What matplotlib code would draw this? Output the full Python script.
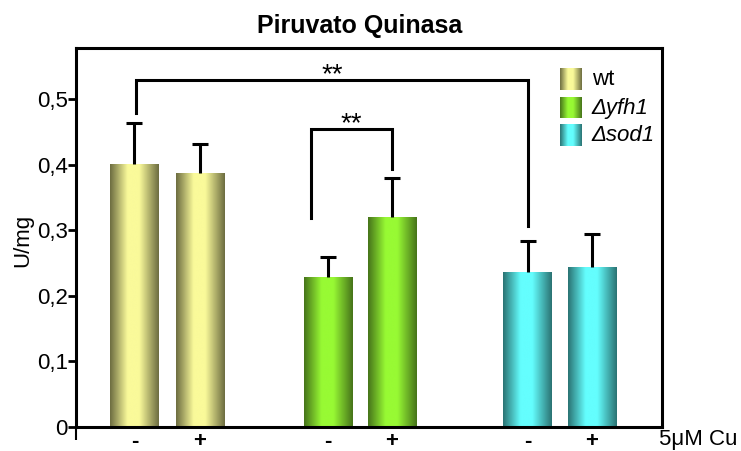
import numpy as np
import matplotlib
matplotlib.use("Agg")
import matplotlib.pyplot as plt
from matplotlib.colors import LinearSegmentedColormap

plt.rcParams['font.family'] = ['Liberation Sans', 'DejaVu Sans']

# Data
strains = ['wt', 'Δyfh1', 'Δsod1']
treatment = ['-', '+', '-', '+', '-', '+']
activity = [0.401, 0.387, 0.228, 0.321, 0.236, 0.244]
error = [0.062, 0.044, 0.031, 0.058, 0.047, 0.051]
yticks = [0, 0.1, 0.2, 0.3, 0.4, 0.5]
yticklabels = ['0', '0,1', '0,2', '0,3', '0,4', '0,5']

# Bar layout (two bars per strain)
positions = [0, 1.0, 2.95, 3.93, 6.0, 6.98]
bar_width = 0.735
strain_of_bar = [0, 0, 1, 1, 2, 2]

# Cylinder-like shading: dark edges, light centre
palettes = {
    0: ('#6c6c40', '#fafa9a'),
    1: ('#46731a', '#98fa34'),
    2: ('#2a7272', '#64fefe'),
}


def shade_cmap(dark, light):
    return LinearSegmentedColormap.from_list(
        'shade', [(0.0, dark), (0.36, light), (0.6, light), (1.0, dark)])


grad = np.linspace(0, 1, 256).reshape(1, -1)

fig = plt.figure(figsize=(7.41, 4.51), dpi=100)
ax = fig.add_axes([76 / 741, 24 / 451, 586 / 741, 379 / 451])

bars = ax.bar(positions, activity, width=bar_width, color='none',
              edgecolor='none', zorder=2)
for patch, idx in zip(bars.patches, strain_of_bar):
    x0, y0 = patch.get_x(), patch.get_y()
    w, h = patch.get_width(), patch.get_height()
    img = ax.imshow(grad, extent=[x0, x0 + w, y0, y0 + h], aspect='auto',
                    cmap=shade_cmap(*palettes[idx]), zorder=2,
                    interpolation='bicubic')
    img.set_clip_path(patch)

# Upper error bars only
_, caps, _ = ax.errorbar(positions, activity,
                         yerr=[np.zeros(len(error)), error],
                         fmt='none', ecolor='black', elinewidth=2.2,
                         capsize=5.5, capthick=2.2, zorder=3)
caps[0].set_visible(False)


# Significance brackets
def bracket(xl, xr, yl, yr, ytop, label):
    ax.plot([xl, xl, xr, xr], [yl, ytop, ytop, yr], color='black',
            lw=2.2, solid_joinstyle='miter', zorder=4)
    ax.text((xl + xr) / 2, ytop - 0.003, label, ha='center', va='baseline',
            fontsize=20, fontweight='normal', zorder=4)


bracket(positions[0] + 0.03, positions[4], 0.479, 0.307, 0.529, '**')
bracket(positions[2] - 0.26, positions[3], 0.318, 0.393, 0.454, '**')

ax.set_xlim(-0.893, 8.053)
ax.set_ylim(0, 0.578)

ax.set_yticks(yticks)
ax.set_yticklabels(yticklabels)
ax.tick_params(axis='y', direction='out', length=6, width=2,
               labelsize=16, pad=0)

ax.set_xticks(positions)
ax.set_xticklabels(treatment, fontweight='bold')
ax.tick_params(axis='x', which='major', length=0, labelsize=16, pad=3)
ax.set_xticks([-0.893], minor=True)
ax.tick_params(axis='x', which='minor', direction='out', length=9.5,
               width=1.5)

for sp in ax.spines.values():
    sp.set_linewidth(2.2)

ax.text(0.995, -0.034, '5μM Cu', transform=ax.transAxes, ha='left',
        va='center', fontsize=16, clip_on=False)

fig.text(360 / 741, 1 - 26 / 451, 'Piruvato Quinasa', ha='center',
         va='center', fontsize=18, fontweight='bold')
fig.text(23 / 741, 1 - 240 / 451, 'U/mg', rotation=90, ha='center',
         va='center', fontsize=16)

# Legend with shaded swatches
legend_rows = [(0.9446, 0.889), (0.868, 0.815), (0.797, 0.741)]
for i, (name, (top, bot)) in enumerate(zip(strains, legend_rows)):
    ax.imshow(grad, extent=[0.826, 0.8635, bot, top], aspect='auto',
              cmap=shade_cmap(*palettes[i]), transform=ax.transAxes,
              zorder=5, interpolation='bicubic')
    ax.text(0.88, (top + bot) / 2, name, transform=ax.transAxes,
            ha='left', va='center', fontsize=16,
            fontstyle='normal' if i == 0 else 'italic', zorder=5)

ax.set_xlim(-0.893, 8.053)
ax.set_ylim(0, 0.578)

fig.savefig('out.png', dpi=100)
